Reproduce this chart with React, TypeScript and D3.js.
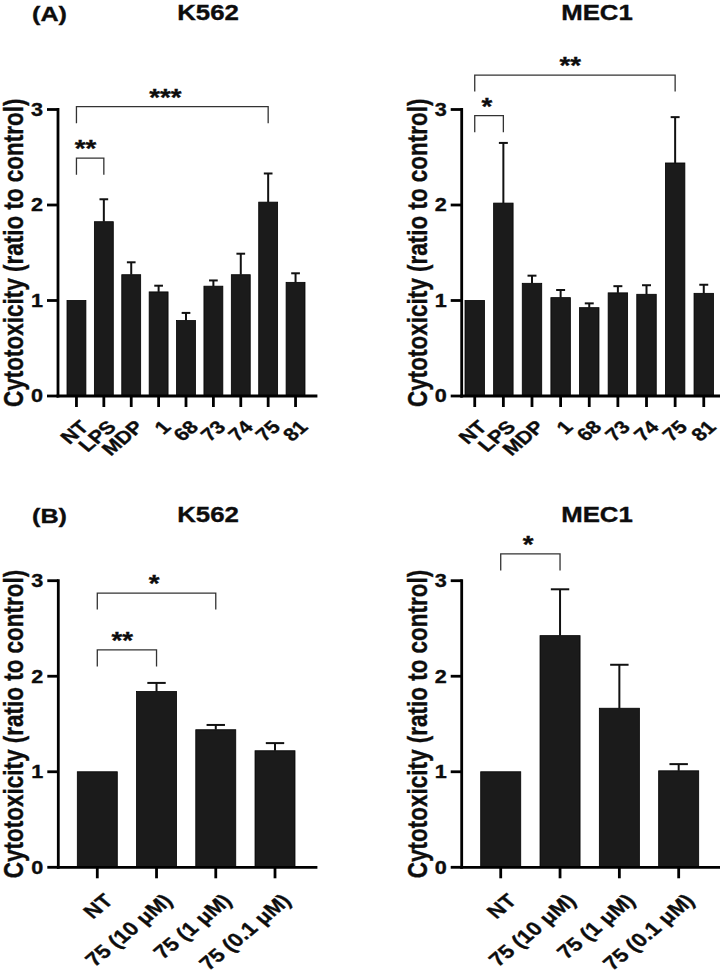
import React from "react";
import * as d3 from "d3";

// ---------- data ----------
const catsA = ["NT", "LPS", "MDP", "1", "68", "73", "74", "75", "81"];
const k562A = [1.0, 1.825, 1.27, 1.09, 0.79, 1.15, 1.27, 2.03, 1.19];
const k562AErr = [0, 0.235, 0.13, 0.065, 0.08, 0.06, 0.22, 0.3, 0.095];
const mec1A = [1.0, 2.02, 1.18, 1.03, 0.925, 1.08, 1.065, 2.44, 1.075];
const mec1AErr = [0, 0.63, 0.08, 0.08, 0.045, 0.07, 0.095, 0.48, 0.09];

const catsB = ["NT", "75 (10 μM)", "75 (1 μM)", "75 (0.1 μM)"];
const k562B = [1.0, 1.84, 1.44, 1.22];
const k562BErr = [0, 0.09, 0.05, 0.08];
const mec1B = [1.0, 2.425, 1.665, 1.01];
const mec1BErr = [0, 0.485, 0.455, 0.07];

const yTicks = [0, 1, 2, 3];

// significance comparisons
const sigK562A = [
  { from: "NT", to: "LPS", label: "**" },
  { from: "NT", to: "75", label: "***" },
];
const sigMec1A = [
  { from: "NT", to: "LPS", label: "*" },
  { from: "NT", to: "75", label: "**" },
];
const sigK562B = [
  { from: "NT", to: "75 (10 μM)", label: "**" },
  { from: "NT", to: "75 (1 μM)", label: "*" },
];
const sigMec1B = [{ from: "NT", to: "75 (10 μM)", label: "*" }];

// ---------- layout ----------
const SX = 1.2; // horizontal text stretch
const FONT = "Arial, 'Liberation Sans', Helvetica, sans-serif";
const YLABEL = "Cytotoxicity (ratio to control)";

type Layout = {
  axisX: number;
  axisEnd: number;
  barL: number;
  barR: number;
  pad: number;
  y0: number;
  y3: number;
  titleX: number;
  titleY: number;
  sigLevels: number[];
  labelFont: number;
  cornerDX: number;
  cornerDY: number;
};

const layA1: Layout = {
  axisX: 58, axisEnd: 316, barL: 67, barR: 305, pad: 0.31, y0: 396, y3: 109.5,
  titleX: 208, titleY: 20, sigLevels: [2.49, 3.03], labelFont: 18, cornerDX: 2.5, cornerDY: 12,
};
const layA2: Layout = {
  axisX: 461.7, axisEnd: 725, barL: 465, barR: 713.5, pad: 0.32, y0: 396, y3: 109.5,
  titleX: 597, titleY: 20, sigLevels: [2.935, 3.36], labelFont: 18, cornerDX: 2.5, cornerDY: 12,
};
const layB1: Layout = {
  axisX: 58.3, axisEnd: 316, barL: 77.3, barR: 295, pad: 0.325, y0: 867.3, y3: 580.7,
  titleX: 208, titleY: 522.3, sigLevels: [2.275, 2.87], labelFont: 19, cornerDX: 5.5, cornerDY: 14,
};
const layB2: Layout = {
  axisX: 461.7, axisEnd: 725, barL: 480.7, barR: 698.7, pad: 0.325, y0: 867.3, y3: 580.7,
  titleX: 597, titleY: 522.3, sigLevels: [3.28], labelFont: 19, cornerDX: 5.5, cornerDY: 14,
};

function T(props: {
  x: number; y: number; rot?: number; anchor?: string; size: number; dy?: string;
  children: React.ReactNode;
}) {
  const { x, y, rot = 0, anchor = "start", size, dy, children } = props;
  return (
    <text
      transform={`translate(${x},${y}) scale(${SX},1) rotate(${rot})`}
      textAnchor={anchor}
      fontSize={size}
      fontWeight="bold"
      fontFamily={FONT}
      fill="#0d0d0d"
      stroke="#0d0d0d"
      strokeWidth={0.35}
      dy={dy}
    >
      {children}
    </text>
  );
}

function Panel(props: {
  lay: Layout;
  title: string;
  cats: string[];
  vals: number[];
  errs: number[];
  sigs: { from: string; to: string; label: string }[];
}) {
  const { lay, title, cats, vals, errs, sigs } = props;
  const x = d3.scaleBand<string>().domain(cats).range([lay.barL, lay.barR]).paddingInner(lay.pad).paddingOuter(0);
  const y = d3.scaleLinear().domain([0, 3]).range([lay.y0, lay.y3]);
  const bw = x.bandwidth();
  const cx = (c: string) => (x(c) as number) + bw / 2;
  const tickLen = 11;
  const cap = lay.labelFont * 0.716;
  const legLen = 16.5;

  return (
    <g>
      <T x={lay.titleX} y={lay.titleY} anchor="middle" size={21.5}>{title}</T>
      {/* y label */}
      <T x={lay.axisX - 35} y={(lay.y0 + lay.y3) / 2} rot={-90} anchor="middle" size={22.5}>{YLABEL}</T>
      {/* bars */}
      {cats.map((c, i) => (
        <rect key={c} x={x(c)} y={y(vals[i])} width={bw} height={lay.y0 - y(vals[i])}
          fill="#1b1b1b" stroke="#000" strokeWidth={0.8} />
      ))}
      {/* error bars */}
      {cats.map((c, i) =>
        errs[i] > 0 ? (
          <g key={"e" + c} stroke="#111" strokeWidth={2}>
            <line x1={cx(c)} x2={cx(c)} y1={y(vals[i])} y2={y(vals[i] + errs[i])} />
            <line x1={cx(c) - bw * 0.23} x2={cx(c) + bw * 0.23} y1={y(vals[i] + errs[i])} y2={y(vals[i] + errs[i])} />
          </g>
        ) : null
      )}
      {/* axes */}
      <line x1={lay.axisX} x2={lay.axisX} y1={lay.y3} y2={lay.y0} stroke="#000" strokeWidth={2.8} strokeLinecap="square" />
      <line x1={lay.axisX} x2={lay.axisEnd} y1={lay.y0} y2={lay.y0} stroke="#000" strokeWidth={2.8} strokeLinecap="square" />
      {yTicks.map((t) => (
        <g key={"yt" + t}>
          <line x1={lay.axisX - tickLen} x2={lay.axisX} y1={y(t)} y2={y(t)} stroke="#000" strokeWidth={2.8} />
          <T x={lay.axisX - tickLen - 4} y={y(t)} anchor="end" size={18} dy="0.36em">{t}</T>
        </g>
      ))}
      {cats.map((c) => (
        <g key={"xt" + c}>
          <line x1={cx(c)} x2={cx(c)} y1={lay.y0} y2={lay.y0 + tickLen} stroke="#000" strokeWidth={2.8} />
          <T
            x={cx(c) + lay.cornerDX + cap * 0.707 * SX}
            y={lay.y0 + tickLen + lay.cornerDY + cap * 0.707}
            rot={-45}
            anchor="end"
            size={lay.labelFont}
          >
            {c}
          </T>
        </g>
      ))}
      {/* significance brackets */}
      {sigs.map((s, i) => {
        const x1 = cx(s.from);
        const x2 = cx(s.to);
        const top = y(lay.sigLevels[i]);
        return (
          <g key={"s" + i}>
            <path d={`M${x1},${top + legLen}V${top}H${x2}V${top + legLen}`} fill="none" stroke="#333" strokeWidth={1.3} />
            <T x={(x1 + x2) / 2 - 2.3 * s.label.length} y={top - 1} anchor="middle" size={23}>{s.label}</T>
          </g>
        );
      })}
    </g>
  );
}

export default function App() {
  return (
    <svg width={720} height={976} style={{ position: "absolute", left: 0, top: 0, background: "#fff" }}>
      <rect width={720} height={976} fill="#fff" />
      <T x={32} y={20.5} size={21}>(A)</T>
      <T x={32} y={523} size={21}>(B)</T>
      <Panel lay={layA1} title="K562" cats={catsA} vals={k562A} errs={k562AErr} sigs={sigK562A} />
      <Panel lay={layA2} title="MEC1" cats={catsA} vals={mec1A} errs={mec1AErr} sigs={sigMec1A} />
      <Panel lay={layB1} title="K562" cats={catsB} vals={k562B} errs={k562BErr} sigs={sigK562B} />
      <Panel lay={layB2} title="MEC1" cats={catsB} vals={mec1B} errs={mec1BErr} sigs={sigMec1B} />
    </svg>
  );
}
